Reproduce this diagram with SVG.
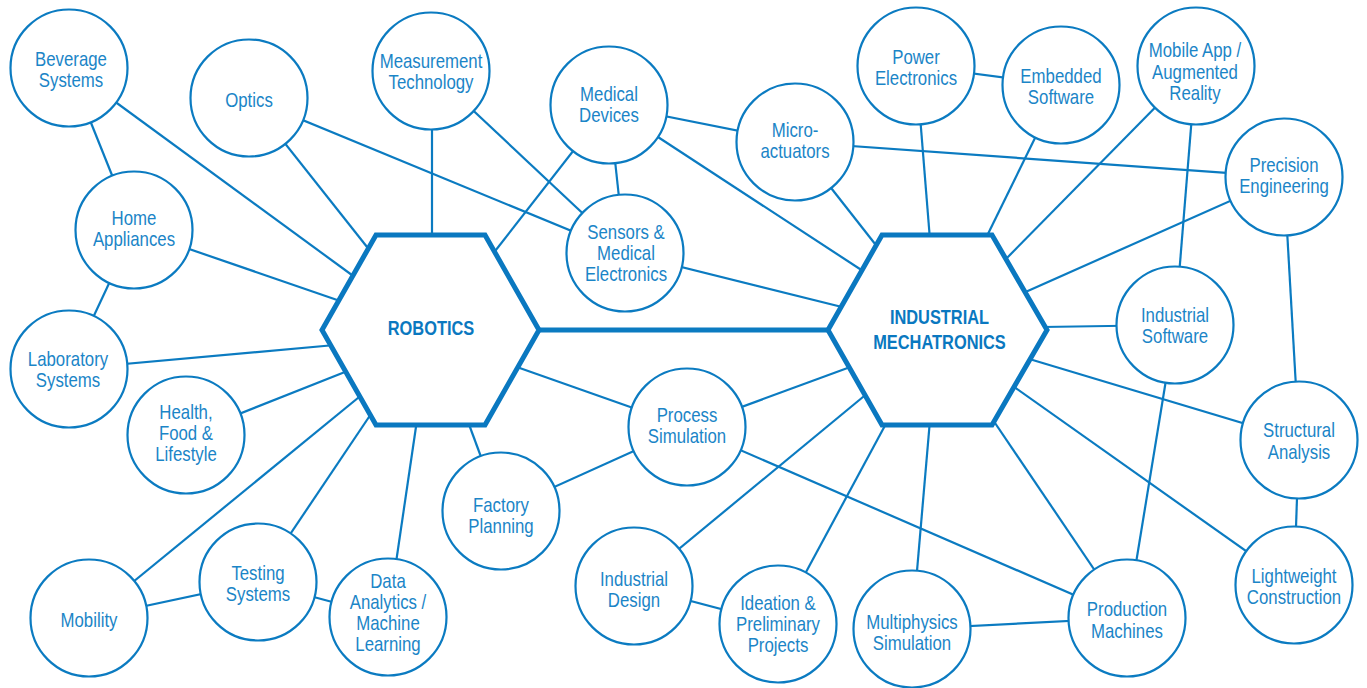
<svg xmlns="http://www.w3.org/2000/svg" width="1367" height="688" viewBox="0 0 1367 688">
<style>
.c{fill:#fff;stroke:#0b7bc1;stroke-width:2.2}
.h{fill:#fff;stroke:#0a78c0;stroke-width:5;stroke-linejoin:miter}
.l{stroke:#0b7bc1;stroke-width:2.2;fill:none}
.t{font-family:"Liberation Sans",Arial,sans-serif;font-size:20.5px;fill:#1b85c7;text-anchor:middle}
.b{font-family:"Liberation Sans",Arial,sans-serif;font-size:20.5px;font-weight:bold;fill:#0a78c0;text-anchor:middle}
</style>
<rect width="1367" height="688" fill="#fff"/>
<g id="connectors" class="l">
<line x1="539" y1="330" x2="828" y2="330" stroke-width="5"/>
<line x1="69" y1="68" x2="356" y2="278"/>
<line x1="249" y1="98" x2="371" y2="252"/>
<line x1="432" y1="71" x2="432" y2="240"/>
<line x1="134" y1="230" x2="343" y2="302"/>
<line x1="69" y1="369" x2="335" y2="345"/>
<line x1="186" y1="435" x2="350" y2="370"/>
<line x1="89" y1="618" x2="364" y2="393"/>
<line x1="258" y1="582" x2="373" y2="411"/>
<line x1="388" y1="617" x2="417" y2="420"/>
<line x1="609" y1="105" x2="492" y2="255"/>
<line x1="687" y1="427" x2="514" y2="366"/>
<line x1="501" y1="511" x2="467" y2="419"/>
<line x1="609" y1="105" x2="866" y2="273"/>
<line x1="795" y1="142" x2="879" y2="249"/>
<line x1="625" y1="253" x2="846" y2="308"/>
<line x1="916" y1="66" x2="930" y2="240"/>
<line x1="1061" y1="85" x2="985" y2="240"/>
<line x1="1196" y1="66" x2="1003" y2="262"/>
<line x1="1284" y1="177" x2="1021" y2="294"/>
<line x1="1175" y1="325" x2="1042" y2="327"/>
<line x1="1299" y1="440" x2="1026" y2="358"/>
<line x1="1294" y1="585" x2="1010" y2="384"/>
<line x1="1127" y1="618" x2="993" y2="420"/>
<line x1="912" y1="629" x2="930" y2="420"/>
<line x1="778" y1="624" x2="888" y2="420"/>
<line x1="634" y1="586" x2="869" y2="392"/>
<line x1="687" y1="427" x2="853" y2="366"/>
<line x1="69" y1="68" x2="134" y2="230"/>
<line x1="134" y1="230" x2="69" y2="369"/>
<line x1="89" y1="618" x2="258" y2="582"/>
<line x1="258" y1="582" x2="388" y2="617"/>
<line x1="249" y1="98" x2="625" y2="253"/>
<line x1="431" y1="71" x2="625" y2="253"/>
<line x1="609" y1="105" x2="625" y2="253"/>
<line x1="609" y1="105" x2="795" y2="142"/>
<line x1="795" y1="142" x2="1284" y2="177"/>
<line x1="916" y1="66" x2="1061" y2="85"/>
<line x1="1196" y1="66" x2="1175" y2="325"/>
<line x1="1284" y1="177" x2="1299" y2="440"/>
<line x1="1175" y1="325" x2="1127" y2="618"/>
<line x1="1299" y1="440" x2="1294" y2="585"/>
<line x1="912" y1="629" x2="1127" y2="618"/>
<line x1="687" y1="427" x2="1127" y2="618"/>
<line x1="501" y1="511" x2="687" y2="427"/>
<line x1="634" y1="586" x2="778" y2="624"/>
</g>
<g id="robotics">
<polygon class="h" points="322,330 376,235 485,235 539,330 485,425 376,425"/>
<g transform="matrix(0.8 0 0 1 86.2 0)"><text class="b" x="431" y="335">ROBOTICS</text></g>
</g>
<g id="industrial-mechatronics">
<polygon class="h" points="828,330 882,235 992,235 1047,330 992,425 882,425"/>
<g transform="matrix(0.8 0 0 1 187.9 0)"><text class="b" x="939.5" y="324">INDUSTRIAL</text><text class="b" x="939.5" y="349">MECHATRONICS</text></g>
</g>
<g id="beverage"><circle class="c" cx="69" cy="68" r="58.5"/><g transform="matrix(0.82 0 0 1 12.78 0)"><text class="t" x="71" y="66">Beverage</text><text class="t" x="71" y="87">Systems</text></g></g>
<g id="optics"><circle class="c" cx="249" cy="98" r="58.5"/><g transform="matrix(0.82 0 0 1 44.82 0)"><text class="t" x="249" y="107">Optics</text></g></g>
<g id="measurement"><circle class="c" cx="431" cy="71" r="58.5"/><g transform="matrix(0.82 0 0 1 77.58 0)"><text class="t" x="431" y="68">Measurement</text><text class="t" x="431" y="89">Technology</text></g></g>
<g id="home"><circle class="c" cx="134" cy="230" r="58.5"/><g transform="matrix(0.82 0 0 1 24.12 0)"><text class="t" x="134" y="225">Home</text><text class="t" x="134" y="246">Appliances</text></g></g>
<g id="laboratory"><circle class="c" cx="69" cy="369" r="58.5"/><g transform="matrix(0.82 0 0 1 12.24 0)"><text class="t" x="68" y="366">Laboratory</text><text class="t" x="68" y="387">Systems</text></g></g>
<g id="health"><circle class="c" cx="186" cy="435" r="58.5"/><g transform="matrix(0.82 0 0 1 33.48 0)"><text class="t" x="186" y="419">Health,</text><text class="t" x="186" y="440">Food &amp;</text><text class="t" x="186" y="461">Lifestyle</text></g></g>
<g id="mobility"><circle class="c" cx="89" cy="618" r="58.5"/><g transform="matrix(0.82 0 0 1 16.02 0)"><text class="t" x="89" y="627">Mobility</text></g></g>
<g id="testing"><circle class="c" cx="258" cy="582" r="58.5"/><g transform="matrix(0.82 0 0 1 46.44 0)"><text class="t" x="258" y="580">Testing</text><text class="t" x="258" y="601">Systems</text></g></g>
<g id="data-analytics"><circle class="c" cx="388" cy="617" r="58.5"/><g transform="matrix(0.82 0 0 1 69.84 0)"><text class="t" x="388" y="588">Data</text><text class="t" x="388" y="609">Analytics /</text><text class="t" x="388" y="630">Machine</text><text class="t" x="388" y="651">Learning</text></g></g>
<g id="factory"><circle class="c" cx="501" cy="511" r="58.5"/><g transform="matrix(0.82 0 0 1 90.18 0)"><text class="t" x="501" y="512">Factory</text><text class="t" x="501" y="533">Planning</text></g></g>
<g id="process"><circle class="c" cx="687" cy="427" r="58.5"/><g transform="matrix(0.82 0 0 1 123.66 0)"><text class="t" x="687" y="422">Process</text><text class="t" x="687" y="443">Simulation</text></g></g>
<g id="industrial-design"><circle class="c" cx="634" cy="586" r="58.5"/><g transform="matrix(0.82 0 0 1 114.12 0)"><text class="t" x="634" y="586">Industrial</text><text class="t" x="634" y="607">Design</text></g></g>
<g id="ideation"><circle class="c" cx="778" cy="624" r="58.5"/><g transform="matrix(0.82 0 0 1 140.04 0)"><text class="t" x="778" y="610">Ideation &amp;</text><text class="t" x="778" y="631">Preliminary</text><text class="t" x="778" y="652">Projects</text></g></g>
<g id="multiphysics"><circle class="c" cx="912" cy="629" r="58.5"/><g transform="matrix(0.82 0 0 1 164.16 0)"><text class="t" x="912" y="629">Multiphysics</text><text class="t" x="912" y="650">Simulation</text></g></g>
<g id="production"><circle class="c" cx="1127" cy="618" r="58.5"/><g transform="matrix(0.82 0 0 1 202.86 0)"><text class="t" x="1127" y="616">Production</text><text class="t" x="1127" y="638">Machines</text></g></g>
<g id="lightweight"><circle class="c" cx="1294" cy="585" r="58.5"/><g transform="matrix(0.82 0 0 1 232.92 0)"><text class="t" x="1294" y="583">Lightweight</text><text class="t" x="1294" y="604">Construction</text></g></g>
<g id="structural"><circle class="c" cx="1299" cy="440" r="58.5"/><g transform="matrix(0.82 0 0 1 233.82 0)"><text class="t" x="1299" y="437">Structural</text><text class="t" x="1299" y="459">Analysis</text></g></g>
<g id="industrial-software"><circle class="c" cx="1175" cy="325" r="58.5"/><g transform="matrix(0.82 0 0 1 211.5 0)"><text class="t" x="1175" y="322">Industrial</text><text class="t" x="1175" y="343">Software</text></g></g>
<g id="precision"><circle class="c" cx="1284" cy="177" r="58.5"/><g transform="matrix(0.82 0 0 1 231.12 0)"><text class="t" x="1284" y="172">Precision</text><text class="t" x="1284" y="193">Engineering</text></g></g>
<g id="mobile-app"><circle class="c" cx="1196" cy="66" r="58.5"/><g transform="matrix(0.82 0 0 1 215.1 0)"><text class="t" x="1195" y="57">Mobile App /</text><text class="t" x="1195" y="79">Augmented</text><text class="t" x="1195" y="100">Reality</text></g></g>
<g id="embedded"><circle class="c" cx="1061" cy="85" r="58.5"/><g transform="matrix(0.82 0 0 1 190.98 0)"><text class="t" x="1061" y="83">Embedded</text><text class="t" x="1061" y="104">Software</text></g></g>
<g id="power"><circle class="c" cx="916" cy="66" r="58.5"/><g transform="matrix(0.82 0 0 1 164.88 0)"><text class="t" x="916" y="64">Power</text><text class="t" x="916" y="85">Electronics</text></g></g>
<g id="micro-actuators"><circle class="c" cx="795" cy="142" r="58.5"/><g transform="matrix(0.82 0 0 1 143.1 0)"><text class="t" x="795" y="137">Micro-</text><text class="t" x="795" y="158">actuators</text></g></g>
<g id="medical-devices"><circle class="c" cx="609" cy="105" r="58.5"/><g transform="matrix(0.82 0 0 1 109.62 0)"><text class="t" x="609" y="101">Medical</text><text class="t" x="609" y="122">Devices</text></g></g>
<g id="sensors"><circle class="c" cx="625" cy="253" r="58.5"/><g transform="matrix(0.82 0 0 1 112.68 0)"><text class="t" x="626" y="239">Sensors &amp;</text><text class="t" x="626" y="260">Medical</text><text class="t" x="626" y="281">Electronics</text></g></g>
</svg>
